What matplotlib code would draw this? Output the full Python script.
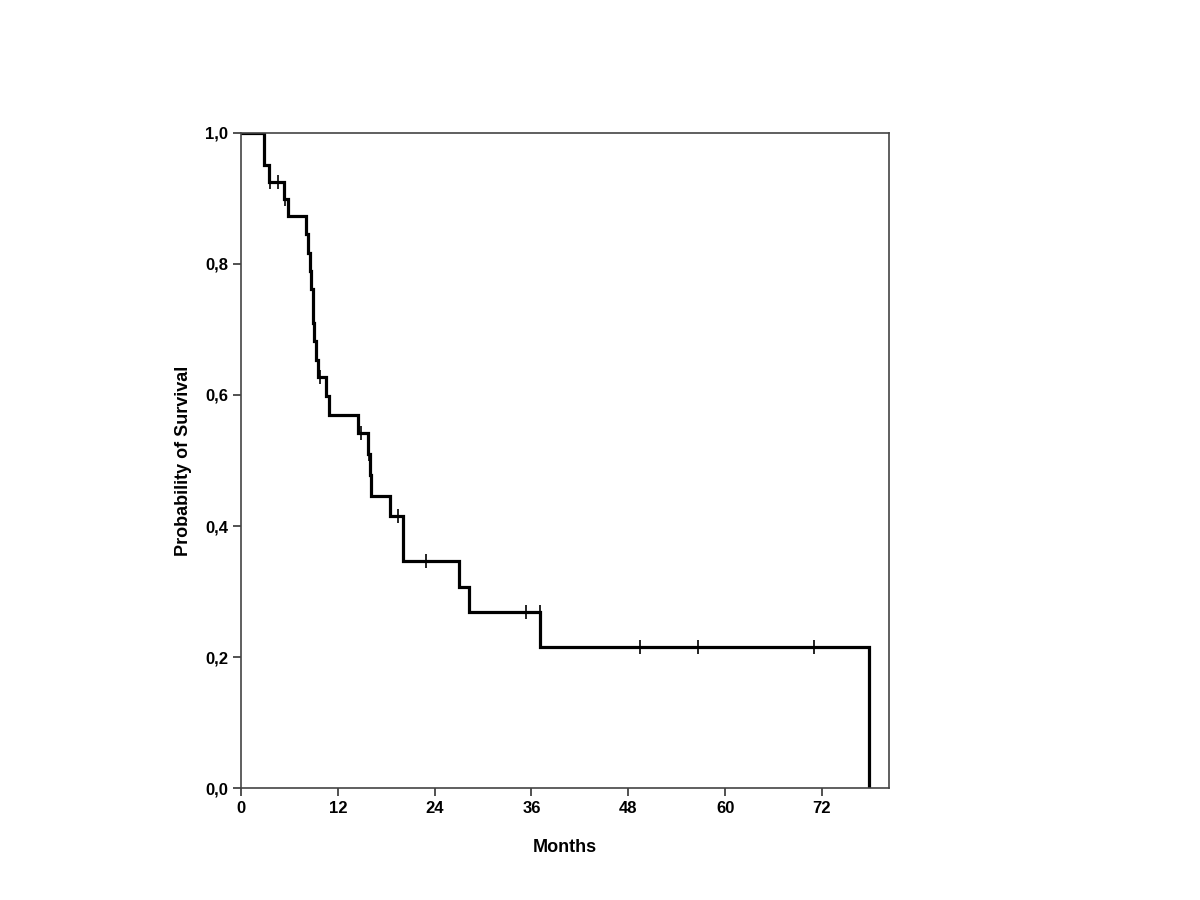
import numpy as np
import matplotlib
matplotlib.use("Agg")
import matplotlib.pyplot as plt

# Kaplan-Meier steps: time of each drop (months)
# and the survival probability right after it
event_months = [0.0, 2.9, 3.5, 5.3, 5.8, 8.1, 8.35, 8.55, 8.7, 8.95, 9.1, 9.3,
                9.6, 10.6, 10.9, 14.5, 15.8, 16.0, 16.1, 18.5, 20.1, 27.0,
                28.3, 37.1, 77.85]
survival = [1.0, 0.950, 0.925, 0.899, 0.873, 0.845, 0.817, 0.789, 0.762,
            0.709, 0.682, 0.654, 0.627, 0.598, 0.570, 0.542, 0.510, 0.478,
            0.446, 0.416, 0.346, 0.307, 0.269, 0.215, 0.0]

# censored observations (months)
censor_months = [3.6, 4.6, 5.4, 9.8, 14.9, 15.9, 19.5, 22.9, 35.3, 37.0,
                 49.4, 56.6, 71.0]

x_ticks = [0, 12, 24, 36, 48, 60, 72]
y_ticks = [0.0, 0.2, 0.4, 0.6, 0.8, 1.0]
y_tick_labels = ["0,0", "0,2", "0,4", "0,6", "0,8", "1,0"]


def main():
    plt.rcParams.update({
        "font.family": ["Liberation Sans", "DejaVu Sans"],
        "font.weight": "bold",
        "axes.linewidth": 1.2,
    })

    fig = plt.figure(figsize=(12, 9), dpi=100)
    ax = fig.add_axes([0.2008, 0.1241, 0.5400, 0.7285])

    ax.plot(event_months, survival, drawstyle="steps-post",
            color="black", lw=2.3, solid_joinstyle="miter")

    # censor marks sit on the curve
    t = np.array(event_months)
    s = np.array(survival)
    idx = np.searchsorted(t, censor_months, side="right") - 1
    ax.plot(censor_months, s[idx], ls="none", marker="|", ms=10, mew=1.2,
            color="black")

    ax.set_xlim(0, 80.3)
    ax.set_ylim(0, 1.0)
    ax.set_xticks(x_ticks)
    ax.set_yticks(y_ticks)
    ax.set_yticklabels(y_tick_labels)

    for sp in ax.spines.values():
        sp.set_color("#444444")
    ax.tick_params(direction="out", length=6, width=1.2, color="#333333",
                   labelsize=12, pad=3, top=False, right=False)
    for lab in ax.get_xticklabels() + ax.get_yticklabels():
        lab.set_fontweight("bold")

    ax.set_xlabel("Months", fontsize=13, fontweight="bold", labelpad=17)
    ax.set_ylabel("Probability of Survival", fontsize=13, fontweight="bold",
                  labelpad=9.5)

    fig.savefig("out.png", dpi=100, facecolor="white")
    plt.close(fig)


if __name__ == "__main__":
    main()
